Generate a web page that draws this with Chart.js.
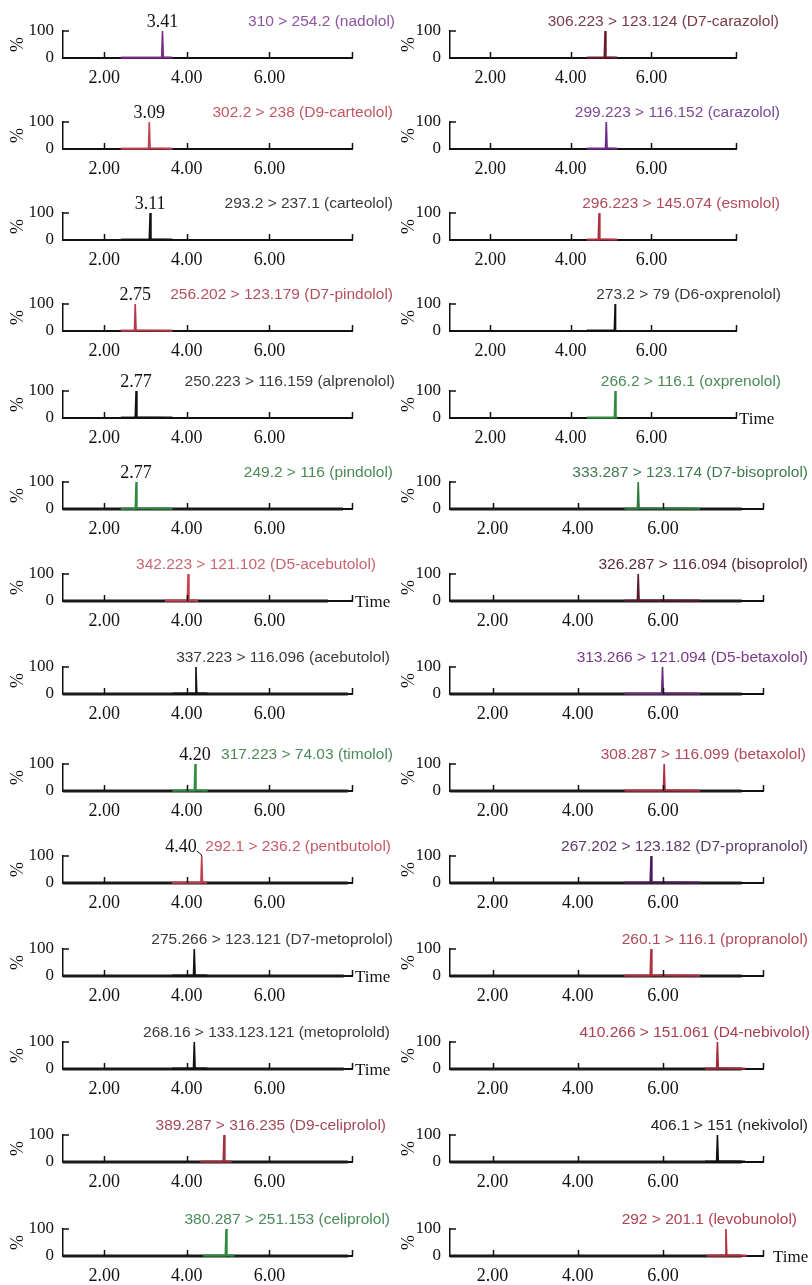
<!DOCTYPE html>
<html>
<head>
<meta charset="utf-8">
<script src="https://cdn.jsdelivr.net/npm/chart.js@4.4.1/dist/chart.umd.min.js"></script>
<style>
html, body { margin: 0; padding: 0; background: #fff; }
#wrap { position: relative; width: 812px; height: 1285px; overflow: hidden; }
#wrap canvas { position: absolute; }
</style>
</head>
<body>
<div id="wrap"></div>
<script>
// panels: left column top to bottom, then right column top to bottom
const transitions = [
  '310 > 254.2 (nadolol)', '302.2 > 238 (D9-carteolol)', '293.2 > 237.1 (carteolol)',
  '256.202 > 123.179 (D7-pindolol)', '250.223 > 116.159 (alprenolol)', '249.2 > 116 (pindolol)',
  '342.223 > 121.102 (D5-acebutolol)', '337.223 > 116.096 (acebutolol)', '317.223 > 74.03 (timolol)',
  '292.1 > 236.2 (pentbutolol)', '275.266 > 123.121 (D7-metoprolol)', '268.16 > 133.123.121 (metoprolold)',
  '389.287 > 316.235 (D9-celiprolol)', '380.287 > 251.153 (celiprolol)',
  '306.223 > 123.124 (D7-carazolol)', '299.223 > 116.152 (carazolol)', '296.223 > 145.074 (esmolol)',
  '273.2 > 79 (D6-oxprenolol)', '266.2 > 116.1 (oxprenolol)', '333.287 > 123.174 (D7-bisoprolol)',
  '326.287 > 116.094 (bisoprolol)', '313.266 > 121.094 (D5-betaxolol)', '308.287 > 116.099 (betaxolol)',
  '267.202 > 123.182 (D7-propranolol)', '260.1 > 116.1 (propranolol)', '410.266 > 151.061 (D4-nebivolol)',
  '406.1 > 151 (nekivolol)', '292 > 201.1 (levobunolol)'
];
const peakTimes = [3.41, 3.09, 3.11, 2.75, 2.77, 2.77, 4.03, 4.22, 4.20, 4.36, 4.18, 4.18, 4.90, 4.95,
  4.85, 4.88, 4.70, 5.10, 5.10, 5.42, 5.42, 5.99, 6.03, 5.72, 5.72, 7.28, 7.28, 7.48];
const peakLabels = ['3.41', '3.09', '3.11', '2.75', '2.77', '2.77', '', '', '4.20', '4.40', '', '', '', '',
  '', '', '', '', '', '', '', '', '', '', '', '', '', ''];
const windowStart = [2.4, 2.4, 2.4, 2.4, 2.4, 2.4, 3.47, 3.66, 3.65, 3.64, 3.65, 3.65, 4.33, 4.4,
  4.4, 4.4, 4.4, 4.4, 4.4, 5.1, 5.1, 5.1, 5.1, 5.1, 5.1, 6.99, 6.99, 7.03];
const windowEnd = [3.65, 3.65, 3.65, 3.65, 3.65, 3.65, 4.27, 4.5, 4.5, 4.49, 4.5, 4.5, 5.08, 5.15,
  5.15, 5.15, 5.15, 5.1, 5.15, 6.87, 6.87, 6.87, 6.87, 6.87, 6.87, 7.93, 7.93, 7.97];
const runEnd = [0, 0, 0, 0, 0, 7.78, 7.42, 7.9, 7.9, 7.9, 7.8, 7.8, 7.9, 7.9,
  0, 0, 0, 0, 0, 7.85, 7.85, 7.85, 7.85, 7.85, 7.85, 7.85, 7.85, 7.85];
const axisMax = [8, 8, 8, 8, 8, 8, 8, 8, 8, 8, 8, 8, 8, 8,
  8.1, 8.1, 8.1, 8.1, 8.1, 8.35, 8.35, 8.35, 8.35, 8.35, 8.35, 8.35, 8.35, 8.35];
const timeTicks = [2, 4, 6];
const intensityTicks = [0, 100];
const showTime = [6, 10, 11, 18, 27];

// styles
const lineColors = ['#7b2a86', '#c0424f', '#111', '#b23a4c', '#111', '#2e8a3e', '#c8404f', '#111', '#2e8a3e',
  '#c0404f', '#111', '#111', '#a0303f', '#2e8a3e',
  '#6a1a2a', '#6a2a8a', '#b03040', '#111', '#2e8a3e', '#2e7a3e', '#5a1a2a', '#6a2a7a', '#b03040',
  '#4a1a5a', '#b03040', '#a02a3a', '#111', '#b0303f'];
const textColors = ['#8e54a0', '#c55560', '#3a3a3a', '#b5505e', '#3a3a3a', '#4a8a58', '#c86570', '#3a3a3a', '#4a8a58',
  '#c85a66', '#3a3a3a', '#3a3a3a', '#a04a58', '#4a8a58',
  '#7a3a48', '#7a4a98', '#b04a5a', '#3a3a3a', '#4a8a58', '#3f7a4e', '#5a2a3a', '#7a3a88', '#b04a5a',
  '#5a3a6a', '#b04a5a', '#a83e4e', '#222', '#b04050'];
const labelRight = [395, 393, 393, 393, 395, 393, 376, 390, 393, 391, 393, 390, 386, 390,
  779, 780, 780, 781, 781, 808, 808, 808, 806, 808, 808, 810, 808, 797];
const rowBaseline = [58, 149, 240, 331, 418, 509, 601, 694, 791, 883, 976, 1069, 1162, 1256];

const SERIF = '"Liberation Serif", "Times New Roman", serif';
const SANS = '"Liberation Sans", Arial, sans-serif';
const wrap = document.getElementById('wrap');

const decor = {
  id: 'decor',
  afterDraw(chart, args, o) {
    const ctx = chart.ctx, a = chart.chartArea;
    const x = chart.scales.x, y = chart.scales.y;
    ctx.save();
    ctx.strokeStyle = '#111';
    ctx.lineWidth = 1.5;
    ctx.beginPath();
    for (const v of [...timeTicks, x.max]) {
      const px = Math.round(x.getPixelForValue(v)) + 0.5;
      ctx.moveTo(px, a.bottom);
      ctx.lineTo(px, a.bottom - 6);
    }
    const py = y.getPixelForValue(100);
    ctx.moveTo(a.left, py);
    ctx.lineTo(a.left + 6, py);
    ctx.stroke();

    ctx.textBaseline = 'middle';
    ctx.font = '15.5px ' + SANS;
    ctx.fillStyle = o.textColor;
    ctx.textAlign = 'right';
    ctx.fillText(o.text, o.labelX, a.top - 9);

    if (o.rtLabel) {
      ctx.font = '18px ' + SERIF;
      ctx.fillStyle = '#111';
      const px = x.getPixelForValue(o.rt);
      if (o.rtLeft) {
        ctx.textAlign = 'right';
        ctx.fillText(o.rtLabel, px - 5, a.top - 9);
        ctx.beginPath();
        ctx.lineWidth = 1;
        ctx.moveTo(px - 5, a.top - 5);
        ctx.lineTo(px - 1, a.top - 2);
        ctx.lineTo(px, a.top);
        ctx.stroke();
      } else {
        ctx.textAlign = 'center';
        ctx.fillText(o.rtLabel, px, a.top - 9);
      }
    }
    if (o.time) {
      ctx.font = '17px ' + SERIF;
      ctx.fillStyle = '#111';
      ctx.textAlign = 'left';
      ctx.textBaseline = 'alphabetic';
      ctx.fillText('Time', a.right + o.timeGap, a.bottom + 6);
    }
    ctx.restore();
  }
};

function hexAlpha(hex, al) {
  let h = hex.slice(1);
  if (h.length === 3) h = h.split('').map(c => c + c).join('');
  const n = parseInt(h, 16);
  return `rgba(${(n >> 16) & 255},${(n >> 8) & 255},${n & 255},${al})`;
}

function makePanel(i) {
  const col = i < 14 ? 0 : 1, row = i % 14;
  const left = col ? 391 : 0;
  const w = col ? 421 : 410, h = 84;
  const axisRight = col ? (row < 5 ? 736 : 763) : 352;
  const yW = col ? 59 : 63;
  const canvas = document.createElement('canvas');
  canvas.width = w; canvas.height = h;
  canvas.style.left = left + 'px';
  canvas.style.top = (rowBaseline[row] - 50) + 'px';
  wrap.appendChild(canvas);

  const rt = peakTimes[i], ws = windowStart[i], we = windowEnd[i];
  const datasets = [
    { data: [{x: ws, y: 1}, {x: rt - 0.02, y: 1}, {x: rt, y: 100}, {x: rt + 0.02, y: 3}, {x: we, y: 1}],
      borderColor: lineColors[i], borderWidth: 1.6, clip: false },
    { data: [{x: ws, y: 2}, {x: we, y: 2}], borderColor: hexAlpha(lineColors[i], 0.6), borderWidth: 2.5, clip: false }
  ];
  if (runEnd[i]) {
    datasets.push({ data: [{x: 1, y: 0}, {x: runEnd[i], y: 0}], borderColor: '#1a1a1a', borderWidth: 3, clip: false });
  }

  new Chart(canvas, {
    type: 'line',
    data: { datasets },
    options: {
      responsive: false,
      animation: false,
      devicePixelRatio: 1,
      layout: { padding: { left: 0, top: 23, right: w - (axisRight - left), bottom: 0 } },
      elements: { point: { radius: 0 }, line: { tension: 0 } },
      plugins: {
        legend: { display: false },
        tooltip: { enabled: false },
        decor: {
          text: transitions[i], textColor: textColors[i], labelX: labelRight[i] - left,
          rtLabel: peakLabels[i], rt: rt, rtLeft: i === 9,
          time: showTime.includes(i), timeGap: i === 27 ? 10 : 3
        }
      },
      scales: {
        x: {
          type: 'linear', min: 1, max: axisMax[i],
          afterFit: s => { s.height = 34; },
          afterBuildTicks: s => { s.ticks = timeTicks.map(v => ({ value: v })); },
          grid: { display: false, drawTicks: false },
          border: { display: true, color: '#111', width: 2 },
          ticks: { callback: v => Number(v).toFixed(2), font: { family: SERIF, size: 18 }, color: '#111',
            padding: 9, maxRotation: 0, autoSkip: false }
        },
        y: {
          min: 0, max: 100,
          afterFit: s => { s.width = yW; },
          afterBuildTicks: s => { s.ticks = intensityTicks.map(v => ({ value: v })); },
          grid: { display: false, drawTicks: false },
          border: { display: true, color: '#111', width: 1.5 },
          ticks: { callback: v => String(v), font: { family: SERIF, size: 17 }, color: '#111', padding: 9 },
          title: { display: true, text: '%', font: { family: SERIF, size: 18 }, color: '#111', padding: { top: 7, bottom: 0 } }
        }
      }
    },
    plugins: [decor]
  });
}

for (let i = 0; i < transitions.length; i++) makePanel(i);
</script>
</body>
</html>
